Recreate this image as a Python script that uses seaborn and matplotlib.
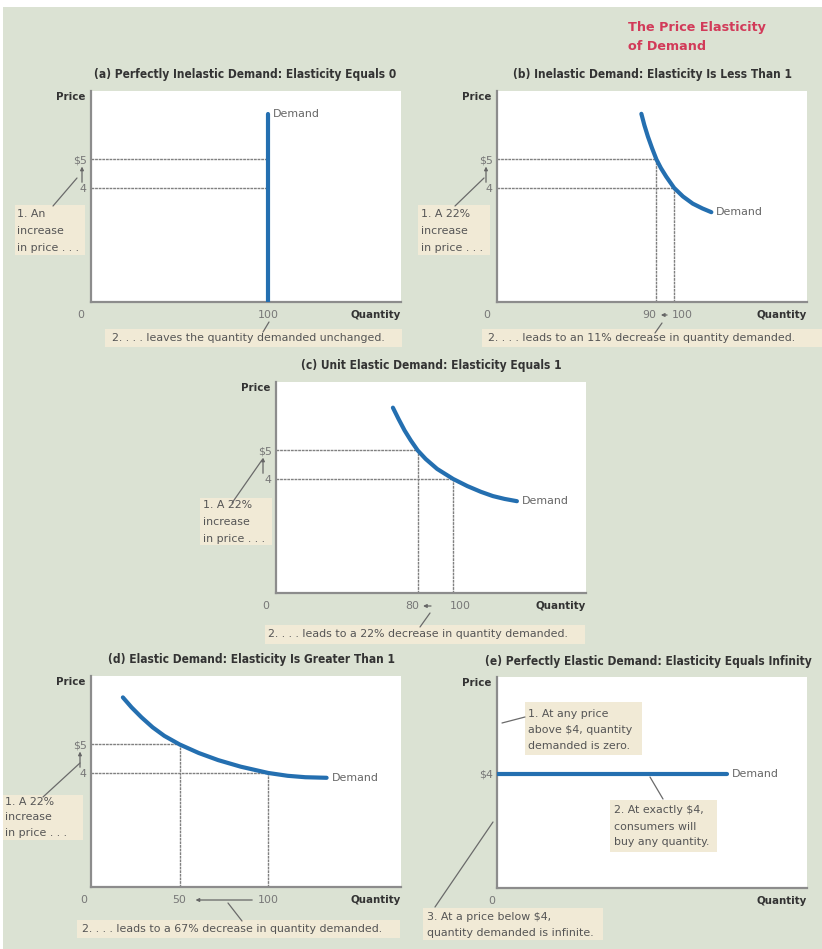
import matplotlib
matplotlib.use("Agg")
import matplotlib.pyplot as plt
import seaborn as sns
from matplotlib.patches import Rectangle
from matplotlib.lines import Line2D
from matplotlib.transforms import ScaledTranslation

# ---- data ----
price_ticks = [4, 5]
price_labels = ["4", "$5"]

# (a) perfectly inelastic
a_qty = [100, 100]
a_price = [0, 6.6]
a_q_at = [100, 100]          # quantity demanded at $5 and $4

# (b) inelastic
b_qty = [81.5, 83.2, 85.2, 87.5, 90, 92.5, 95.5, 100, 105, 110.5, 116, 121]
b_price = [6.6, 6.2, 5.8, 5.4, 5.0, 4.7, 4.4, 4.0, 3.7, 3.45, 3.28, 3.15]
b_q_at = [90, 100]

# (c) unit elastic
c_qty = [66, 69.2, 72.6, 76.1, 80, 84.5, 91, 100, 108, 115.6, 122.4, 129, 136]
c_price = [6.5, 6.1, 5.7, 5.35, 5.0, 4.7, 4.35, 4.0, 3.75, 3.55, 3.4, 3.3, 3.22]
c_q_at = [80, 100]

# (d) elastic
d_qty = [18, 22.9, 28.5, 34.8, 41.4, 50, 60.8, 71.8, 84.5, 100, 111, 121, 133]
d_price = [6.65, 6.3, 5.95, 5.6, 5.3, 5.0, 4.7, 4.45, 4.22, 4.0, 3.9, 3.85, 3.83]
d_q_at = [50, 100]

# (e) perfectly elastic
e_qty = [0, 130]
e_price = [4, 4]

# ---- style ----
BG = "#dbe2d3"
BOX = "#f1ead6"
BLUE = "#246fb0"
GUIDE = "#808080"
AXIS = "#8c8c8c"
TXT = "#555555"
TICK = "#777777"
DARK = "#333333"
RED = "#d23a59"
FS = 7.9

sns.set_style("white")
plt.rcParams["font.family"] = ["DejaVu Sans"]

W, H = 822, 949
fig = plt.figure(figsize=(W / 100, H / 100), dpi=100, facecolor="white")


def fx(x):
    return x / W


def fy(y):
    return 1 - y / H


# background panel (thin white margin top/left)
fig.add_artist(Rectangle((fx(3), 0), 1 - fx(3), fy(7), transform=fig.transFigure,
                         facecolor=BG, edgecolor="none", zorder=-10))


def note(x0, y0, x1, y1, lines, tx, tys):
    fig.add_artist(Rectangle((fx(x0), fy(y1)), (x1 - x0) / W, (y1 - y0) / H,
                             transform=fig.transFigure, facecolor=BOX,
                             edgecolor="none", zorder=1))
    for s, ty in zip(lines, tys):
        fig.text(fx(tx), fy(ty), s, ha="left", va="center", fontsize=FS,
                 color=TXT, zorder=3)


def leader(x1, y1, x2, y2):
    fig.add_artist(Line2D([fx(x1), fx(x2)], [fy(y1), fy(y2)], transform=fig.transFigure,
                          color="#6a6a6a", lw=0.9, zorder=2))


def panel(left, top, title, title_dx=0):
    ax = fig.add_axes([left / W, 1 - (top + 211) / H, 310 / W, 211 / H])
    ax.set_facecolor("white")
    ax.set_xlim(0, 175)
    ax.set_ylim(0, 7.4)
    for s in ["top", "right"]:
        ax.spines[s].set_visible(False)
    for s in ["left", "bottom"]:
        ax.spines[s].set_color(AXIS)
        ax.spines[s].set_linewidth(1.6)
    ax.set_xticks([])
    ax.tick_params(axis="y", length=0, pad=3, labelsize=FS, labelcolor=TICK)
    ax.text(0.5 + title_dx / 310, 1 + 16 / 211, title, transform=ax.transAxes,
            ha="center", va="center", fontsize=8.6, fontweight="bold",
            fontstretch="condensed", color=DARK)
    ax.text(-6 / 310, 1 - 6 / 211, "Price", transform=ax.transAxes, ha="right",
            va="center", fontsize=7.4, fontweight="bold", color=DARK)
    ax.text(1.0, -13 / 211, "Quantity", transform=ax.transAxes, ha="right",
            va="center", fontsize=7.4, fontweight="bold", color=DARK)
    return ax


def xlabels(ax, qs, labels, offsets):
    xt = ax.get_xaxis_transform()
    for q, s, dx in zip(qs, labels, offsets):
        ax.annotate(s, xy=(q, 0), xycoords=xt, xytext=(dx, -13),
                    textcoords="offset pixels", ha="center", va="center",
                    fontsize=FS, color=TICK, annotation_clip=False)


def xarrow(ax, q_from, q_to):
    tr = ax.get_xaxis_transform() + ScaledTranslation(0, -13 / 100, fig.dpi_scale_trans)
    ax.annotate("", xy=(q_to, 0), xycoords=tr, xytext=(q_from, 0), textcoords=tr,
                arrowprops=dict(arrowstyle="-|>", color="#666666", lw=0.9,
                                mutation_scale=5, shrinkA=0, shrinkB=0),
                annotation_clip=False)


def yarrow(ax, dx_px):
    tr = ax.get_yaxis_transform() + ScaledTranslation(dx_px / 100, 0, fig.dpi_scale_trans)
    ax.annotate("", xy=(0, 4.75), xycoords=tr, xytext=(0, 4.2), textcoords=tr,
                arrowprops=dict(arrowstyle="-|>", color="#666666", lw=0.9,
                                mutation_scale=5, shrinkA=0, shrinkB=0),
                annotation_clip=False)


def guides(ax, q_at, vertical=True):
    for q, p in zip(q_at, [5, 4]):
        ax.plot([0, q], [p, p], color=GUIDE, lw=1.0, ls=(0, (2, 0.6)), zorder=1)
        if vertical:
            ax.plot([q, q], [0, p], color=GUIDE, lw=1.0, ls=(0, (2, 0.6)), zorder=1)


def curve(ax, qty, price):
    sns.lineplot(x=qty, y=price, ax=ax, color=BLUE, lw=3, sort=False,
                 estimator=None, zorder=3)
    ax.lines[-1].set_solid_joinstyle("round")
    ax.lines[-1].set_solid_capstyle("round")


def demand_label(ax, q, p):
    ax.annotate("Demand", xy=(q, p), xytext=(5, 0), textcoords="offset pixels",
                fontsize=FS, color="#666666", ha="left", va="center")


# ---- header ----
fig.text(fx(628), fy(28), "The Price Elasticity", fontsize=9.2, fontweight="bold",
         color=RED, ha="left", va="center")
fig.text(fx(628), fy(46), "of Demand", fontsize=9.2, fontweight="bold",
         color=RED, ha="left", va="center")

# ---- (a) ----
ax = panel(91, 91, "(a) Perfectly Inelastic Demand: Elasticity Equals 0", -1)
guides(ax, a_q_at, vertical=False)
curve(ax, a_qty, a_price)
ax.set_yticks(price_ticks, price_labels)
demand_label(ax, a_qty[-1], a_price[-1])
xlabels(ax, [0, 100], ["0", "100"], [-10, 0])
yarrow(ax, -9)
note(15, 205, 85, 255, ["1. An", "increase", "in price . . ."], 17, [214, 231, 248])
leader(53, 206, 77, 178)
note(105, 329, 402, 347, ["2. . . . leaves the quantity demanded unchanged."], 112, [338])
leader(269, 322, 263, 332)

# ---- (b) ----
ax = panel(497, 91, "(b) Inelastic Demand: Elasticity Is Less Than 1", 0)
guides(ax, b_q_at)
curve(ax, b_qty, b_price)
ax.set_yticks(price_ticks, price_labels)
demand_label(ax, b_qty[-1], b_price[-1])
xlabels(ax, [0, 90, 100], ["0", "90", "100"], [-10, -7, 8])
xarrow(ax, 96, 92.5)
yarrow(ax, -11)
note(418, 205, 490, 255, ["1. A 22%", "increase", "in price . . ."], 421, [214, 231, 248])
leader(455, 206, 484, 178)
note(482, 329, 822, 347, ["2. . . . leads to an 11% decrease in quantity demanded."], 488, [338])
leader(662, 323, 655, 333)

# ---- (c) ----
ax = panel(276, 382, "(c) Unit Elastic Demand: Elasticity Equals 1", 0)
guides(ax, c_q_at)
curve(ax, c_qty, c_price)
ax.set_yticks(price_ticks, price_labels)
demand_label(ax, c_qty[-1], c_price[-1])
xlabels(ax, [0, 80, 100], ["0", "80", "100"], [-10, -5, 7])
xarrow(ax, 87.5, 83)
yarrow(ax, -13)
note(200, 498, 272, 545, ["1. A 22%", "increase", "in price . . ."], 203, [505, 522, 539])
leader(232, 503, 262, 460)
note(265, 625, 585, 644, ["2. . . . leads to a 22% decrease in quantity demanded."], 268, [634])
leader(430, 613, 420, 627)

# ---- (d) ----
ax = panel(91, 676, "(d) Elastic Demand: Elasticity Is Greater Than 1", 5)
guides(ax, d_q_at)
curve(ax, d_qty, d_price)
ax.set_yticks(price_ticks, price_labels)
demand_label(ax, d_qty[-1], d_price[-1])
xlabels(ax, [0, 50, 100], ["0", "50", "100"], [-7, 0, 0])
xarrow(ax, 91, 59)
yarrow(ax, -11)
note(3, 795, 83, 840, ["1. A 22%", "increase", "in price . . ."], 5, [802, 817, 833])
leader(43, 797, 80, 763)
note(77, 920, 400, 938, ["2. . . . leads to a 67% decrease in quantity demanded."], 82, [929])
leader(228, 903, 242, 921)

# ---- (e) ----
ax = panel(497, 677, "(e) Perfectly Elastic Demand: Elasticity Equals Infinity", -4)
curve(ax, e_qty, e_price)
ax.set_yticks([4], ["$4"])
demand_label(ax, e_qty[-1], e_price[-1])
xlabels(ax, [0], ["0"], [-5])
note(525, 702, 642, 755, ["1. At any price", "above $4, quantity", "demanded is zero."],
     528, [714, 730, 746])
leader(502, 723, 525, 717)
note(610, 800, 717, 852, ["2. At exactly $4,", "consumers will", "buy any quantity."],
     614, [810, 827, 842])
leader(650, 777, 663, 799)
note(423, 908, 603, 940, ["3. At a price below $4,", "quantity demanded is infinite."],
     427, [917, 933])
leader(493, 822, 435, 907)

fig.savefig("out.png", dpi=100)
